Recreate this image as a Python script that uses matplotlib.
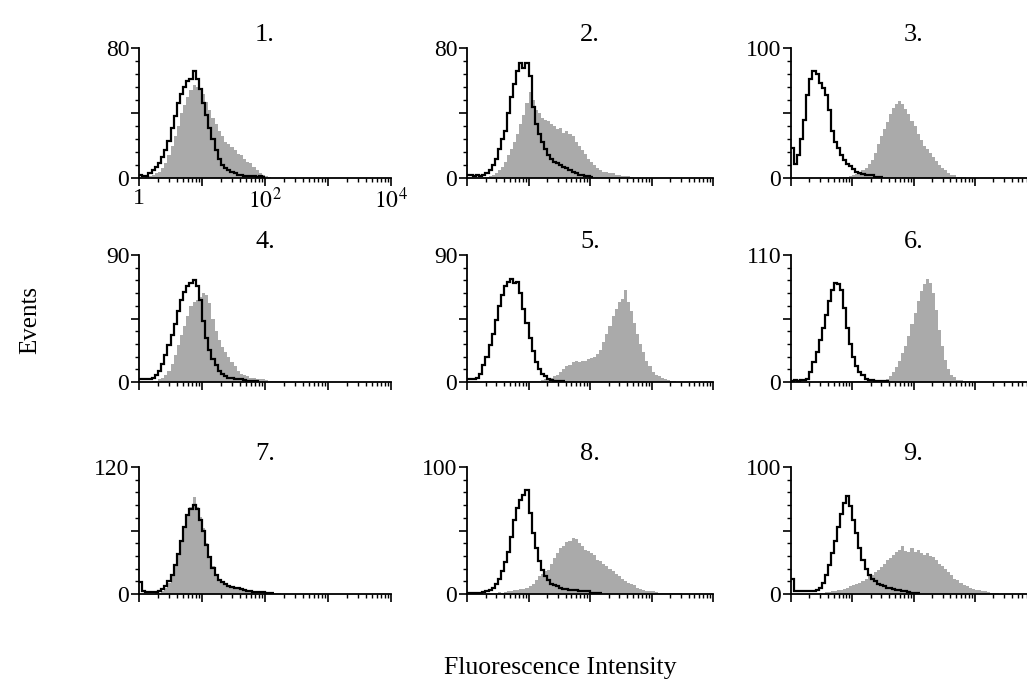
import numpy as np
import matplotlib.pyplot as plt
from matplotlib.ticker import FixedLocator, NullFormatter

plt.rcParams['font.family'] = ['Liberation Serif', 'DejaVu Serif']
plt.rcParams['mathtext.fontset'] = 'stix'

# channels: 20 bins per decade on a 1..10^4 log axis, values are events per bin
BINS_PER_DECADE = 20

titles = ['1.', '2.', '3.', '4.', '5.', '6.', '7.', '8.', '9.']
y_max = [80, 80, 100, 90, 90, 110, 120, 100, 100]

# open (control) histograms: (first bin, counts)
open_1 = (0, [2, 1, 1, 3, 5, 7, 9, 13, 17, 23, 31, 38, 46, 52, 56, 60, 61, 66, 61, 55, 46, 39, 31, 24, 17,
              12, 8, 6, 5, 4, 3, 2, 2, 1, 1, 1, 1, 0.5, 1, 0.5])
open_2 = (0, [2, 2, 1, 2, 1, 2, 3, 5, 8, 12, 18, 24, 29, 40, 50, 58, 66, 71, 68, 71, 63, 44, 33, 27, 22,
              18, 14, 12, 10, 9, 8, 7, 6, 5, 4, 3, 2, 2, 1, 1, 0.5])
open_3 = (0, [23, 11, 18, 30, 45, 64, 76, 82, 80, 73, 69, 64, 52, 36, 28, 23, 18, 14, 11, 9, 7, 5, 4, 3, 2,
              2, 2, 1, 1, 0.5])
open_4 = (0, [2, 2, 2, 2, 3, 5, 8, 13, 19, 26, 33, 41, 50, 58, 64, 68, 70, 72, 68, 58, 43, 31, 23, 16, 12,
              8, 6, 4, 3, 3, 2, 2, 2, 1.5, 1, 1, 1, 0.5])
open_5 = (0, [2, 2, 2, 3, 6, 12, 18, 26, 34, 44, 54, 62, 68, 71, 73, 70, 71, 63, 52, 42, 31, 22, 14, 9, 6,
              4, 2, 1.5, 1, 1, 0.5, 0.5])
open_6 = (0, [1, 2, 1, 2, 2, 3, 9, 17, 26, 36, 47, 58, 70, 80, 86, 85, 80, 64, 47, 33, 22, 14, 9, 6, 3,
              2, 1.5, 1, 1, 1, 0.5, 0.5])
open_7 = (0, [11, 3, 2, 2, 2, 2, 3, 5, 8, 12, 18, 27, 38, 50, 63, 75, 80, 84, 80, 70, 60, 46, 35, 25, 18,
              13, 11, 9, 8, 7, 6, 6, 5, 4, 3, 3, 2, 2, 2, 2, 1, 1, 0.5])
open_8 = (0, [1, 1, 1, 1, 1, 1.5, 2, 3, 5, 8, 12, 18, 25, 33, 45, 58, 68, 74, 78, 82, 64, 48, 36, 26, 19,
              14, 11, 8, 7, 6, 5, 4, 4, 3, 3, 3, 2, 2, 2, 2, 1, 1, 1, 0.5])
open_9 = (0, [12, 2, 2, 2, 2, 2, 2, 2, 3, 5, 9, 15, 23, 32, 42, 53, 63, 72, 77, 69, 58, 48, 36, 27, 20,
              15, 12, 10, 8, 7, 6, 5, 5, 4, 3, 3, 2, 2, 1.5, 1, 1, 0.5])

# filled (stained) histograms: (first bin, counts)
fill_1 = (2, [0.5, 1, 2, 3, 4, 6, 9, 14, 20, 26, 32, 40, 45, 50, 54, 57, 56, 55, 52, 47, 42, 37, 33, 29,
              26, 22, 21, 19, 17, 15, 14, 12, 10, 9, 7, 5, 3, 2, 1, 0.5, 0.3])
fill_2 = (6, [0.5, 1, 2, 3, 5, 7, 10, 14, 18, 22, 27, 33, 39, 46, 53, 48, 42, 40, 37, 36, 35, 33, 32, 30,
              31, 28, 29, 27, 26, 22, 20, 17, 15, 12, 10, 8, 6, 5, 4, 4, 3, 3, 2, 2, 1.5, 1, 1, 0.5])
fill_3 = (16, [0.5, 1, 1, 1.5, 2, 3, 4, 6, 8, 11, 14, 19, 26, 32, 38, 43, 49, 54, 57, 59, 57, 53, 49, 44,
               40, 34, 29, 25, 22, 19, 16, 13, 10, 8, 6, 4, 2.5, 2, 1, 1, 0.5])
fill_4 = (4, [0.5, 1, 2, 3, 5, 8, 13, 19, 26, 33, 40, 47, 54, 57, 58, 60, 63, 62, 56, 45, 36, 30, 25, 21,
              18, 14, 11, 8, 6, 5, 4, 3, 3, 2, 2, 2, 1.5, 1, 1, 1, 0.5, 0.5])
fill_5 = (6, [1, 1, 1, 1, 1, 1, 1, 1, 1, 1, 1, 1, 1, 1, 1, 1, 1, 1, 1.5, 2, 2, 3, 4, 5, 7, 9, 11, 12, 14,
              15, 14, 15, 15, 16, 17, 18, 20, 23, 28, 34, 40, 47, 52, 57, 59, 65, 57, 50, 42, 34, 27, 21,
              15, 11, 7, 5, 4, 3, 2, 1.5, 1, 0.5])
fill_6 = (10, [0.8, 0.8, 0.8, 0.8, 0.8, 0.8, 0.8, 0.8, 0.8, 0.8, 0.8, 0.8, 0.8, 0.8, 0.8, 0.8, 0.8, 0.8,
               0.8, 1, 2, 3, 5, 9, 13, 18, 25, 31, 40, 50, 60, 70, 79, 85, 89, 86, 77, 62, 45, 31, 19,
               11, 6, 4, 2, 2, 1, 1, 0.5])
fill_7 = (5, [0.5, 1, 3, 6, 10, 17, 26, 37, 49, 62, 74, 82, 92, 82, 73, 62, 48, 36, 26, 19, 14, 11, 9, 8,
              7, 6, 5, 5, 4, 3, 3, 2, 2, 2, 1.5, 1, 1, 1, 0.5, 0.5])
fill_8 = (6, [0.5, 1, 1, 1, 1.5, 1, 1.5, 2, 2, 3, 3, 4, 4, 5, 6, 8, 11, 14, 16, 18, 19, 24, 28, 32, 36,
              38, 41, 42, 44, 43, 40, 38, 35, 34, 32, 31, 27, 26, 24, 22, 20, 18, 16, 14, 12, 10, 9, 8,
              7, 5, 4, 3, 2.5, 2, 2, 1.5, 1, 1, 1, 1, 0.5, 0.5, 0.5, 0.5])
fill_9 = (6, [0.5, 1, 1, 1, 1, 1.5, 1.5, 2, 2, 3, 3, 4, 5, 6, 7, 8, 9, 10, 12, 14, 15, 17, 19, 21, 24, 27,
              28, 31, 33, 35, 38, 34, 33, 36, 33, 35, 32, 31, 32, 30, 29, 27, 24, 22, 20, 17, 15, 12, 11,
              9, 7, 6, 5, 4, 3, 3, 2, 2, 1.5, 1, 1, 0.5])

open_hists = [open_1, open_2, open_3, open_4, open_5, open_6, open_7, open_8, open_9]
fill_hists = [fill_1, fill_2, fill_3, fill_4, fill_5, fill_6, fill_7, fill_8, fill_9]

W, H = 1027, 686
col_left = [139, 467, 791]
col_width = [252, 246, 245]
row_top = [48, 255, 467]
row_zero = [178, 382, 594]


def edges_for(start, vals):
    return 10 ** (np.arange(start, start + len(vals) + 1) / BINS_PER_DECADE)


fig = plt.figure(figsize=(W / 100, H / 100), dpi=100)

for k in range(9):
    r, c = divmod(k, 3)
    ax = fig.add_axes([col_left[c] / W, 1 - row_zero[r] / H,
                       col_width[c] / W, (row_zero[r] - row_top[r]) / H])
    ax.set_xscale('log')

    s, v = fill_hists[k]
    ax.stairs(v, edges_for(s, v), fill=True, color='#aaaaaa', lw=0)
    s, v = open_hists[k]
    ax.stairs(v, edges_for(s, v), color='black', lw=1.6, baseline=None)

    ax.set_xlim(1, 1e4)
    ax.set_ylim(0, y_max[k])
    for side in ['top', 'right']:
        ax.spines[side].set_visible(False)
    for side in ['left', 'bottom']:
        ax.spines[side].set_linewidth(1.3)

    ym = y_max[k]
    ax.yaxis.set_major_locator(FixedLocator([0, ym / 2, ym]))
    ax.set_yticklabels(['0', '', str(ym)])
    ax.yaxis.set_minor_locator(FixedLocator([ym * i / 10 for i in range(1, 10) if i != 5]))
    ax.xaxis.set_major_locator(FixedLocator([1, 10, 100, 1000, 10000]))
    ax.xaxis.set_minor_locator(FixedLocator([m * 10 ** d for d in range(4) for m in range(2, 10)]))
    ax.xaxis.set_minor_formatter(NullFormatter())
    if k == 0:
        ax.set_xticklabels(['1', '', '$10^2$', '', '$10^4$'])
    else:
        ax.set_xticklabels([])
    ax.tick_params(which='major', length=6, width=1.2, labelsize=17, direction='out', pad=1)
    ax.tick_params(which='minor', length=3, width=1.0, direction='out')
    ax.set_title(titles[k], fontsize=19, pad=5)

fig.text(30 / W, 1 - 320 / H, 'Events', rotation=90, fontsize=18, ha='center', va='center')
fig.text(560 / W, 1 - 668 / H, 'Fluorescence Intensity', fontsize=18.5, ha='center', va='center')

fig.savefig('out.png', dpi=100)
